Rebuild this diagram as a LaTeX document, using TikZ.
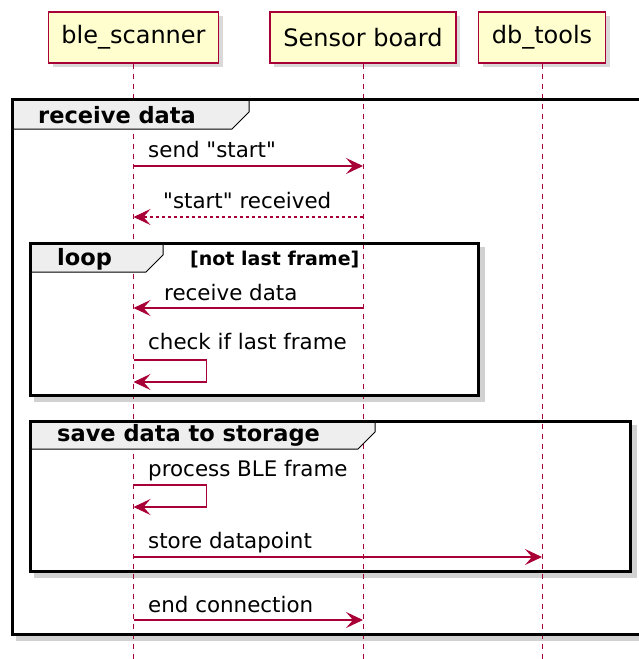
\documentclass[tikz,border=0pt]{standalone}
\usepackage{fontspec}
\setmainfont{DejaVu Sans}
\usetikzlibrary{arrows.meta,shadows}

\definecolor{umlred}{HTML}{A80036}
\definecolor{umlbox}{HTML}{FEFECE}
\definecolor{tabgray}{HTML}{EEEEEE}

\begin{document}
\begin{tikzpicture}[x=1pt,y=-1pt,
  participant/.style={draw=umlred, fill=umlbox, line width=1.4pt,
    minimum height=51pt, inner sep=0pt, font=\fontsize{24}{28}\selectfont,
    drop shadow={shadow xshift=4pt, shadow yshift=-4pt, opacity=0.3}},
  lifeline/.style={umlred, line width=1pt, dash pattern=on 5pt off 5pt},
  msg/.style={umlred, line width=1.1pt,
    -{Stealth[length=17pt, width=16pt, inset=7pt]}},
  reply/.style={msg, dash pattern=on 3pt off 3pt},
  msglabel/.style={anchor=base west, inner sep=0pt,
    font=\fontsize{21.4}{25}\selectfont},
  frame/.style={draw=black, line width=3pt},
  frameshadow/.style={line width=5pt, black, opacity=0.18},
  tab/.style={fill=tabgray, draw=black, line width=1pt},
  tablabel/.style={anchor=base west, inner sep=0pt,
    font=\fontsize{22.5}{26}\selectfont\bfseries},
  guard/.style={anchor=base west, inner sep=0pt,
    font=\fontsize{19}{22}\selectfont\bfseries}]
\useasboundingbox (0,0) rectangle (639,659);
\clip (0,0) rectangle (639,659);

% participants
\node[participant, minimum width=170pt] (ble)    at (133.5,37.5) {ble\_scanner};
\node[participant, minimum width=186pt] (sensor) at (363,37.5)   {Sensor board};
\node[participant, minimum width=127pt] (db)     at (542,37.5)   {db\_tools};
\coordinate (bottom) at (0,659);

% frame shadows
\draw[frameshadow] (16,638) -- (664,638);
\draw[frameshadow] (34,399) -- (482,399) -- (482,247);
\draw[frameshadow] (34,575) -- (634,575) -- (634,425);

% lifelines
\draw[lifeline] (ble.south)    -- (ble |- bottom);
\draw[lifeline] (sensor.south) -- (sensor |- bottom);
\draw[lifeline] (db.south)     -- (db |- bottom);

% group: receive data
\draw[frame] (12,99) rectangle (660,634);
\draw[tab] (12,99) -- (249,99) -- (249,112) -- (232,129) -- (12,129) -- cycle;
\draw[frame] (12,129) -- (12,99) -- (660,99);
\node[tablabel] (grecv) at (38,123) {receive data};

% group: loop
\draw[frame] (30,243) rectangle (478,395);
\draw[tab] (30,243) -- (163,243) -- (163,255) -- (146,272) -- (30,272) -- cycle;
\draw[frame] (30,272) -- (30,243) -- (163,243);
\node[tablabel] (gloop) at (57,265) {loop};
\node[guard] (gcond) at (190,265) {[not last frame]};

% group: save data to storage
\draw[frame] (30,421) rectangle (630,571);
\draw[tab] (30,421) -- (375,421) -- (375,432) -- (358,449) -- (30,449) -- cycle;
\draw[frame] (30,449) -- (30,421) -- (375,421);
\node[tablabel] (gsave) at (57,441) {save data to storage};

% messages
\coordinate (m1) at (0,166);
\node[msglabel] (l1) at (148,157) {send \textquotedbl start\textquotedbl};
\draw[msg] (ble |- m1) -- (sensor |- m1);

\coordinate (m2) at (0,217);
\node[msglabel] (l2) at (163,208) {\textquotedbl start\textquotedbl{} received};
\draw[reply] (sensor |- m2) -- (ble |- m2);

\coordinate (m3) at (0,308);
\node[msglabel] (l3) at (164,300) {receive data};
\draw[msg] (sensor |- m3) -- (ble |- m3);

\coordinate (m4) at (0,360);
\coordinate (m4b) at (0,382);
\node[msglabel] (l4) at (148,349) {check if last frame};
\draw[msg] (ble |- m4) -- ++(73,0) -- ++(0,22) -- (ble |- m4b);

\coordinate (m5) at (0,485);
\coordinate (m5b) at (0,507);
\node[msglabel] (l5) at (148,476) {process BLE frame};
\draw[msg] (ble |- m5) -- ++(73,0) -- ++(0,22) -- (ble |- m5b);

\coordinate (m6) at (0,557);
\node[msglabel] (l6) at (148,548) {store datapoint};
\draw[msg] (ble |- m6) -- (db |- m6);

\coordinate (m7) at (0,620);
\node[msglabel] (l7) at (148,612) {end connection};
\draw[msg] (ble |- m7) -- (sensor |- m7);
\end{tikzpicture}
\end{document}
